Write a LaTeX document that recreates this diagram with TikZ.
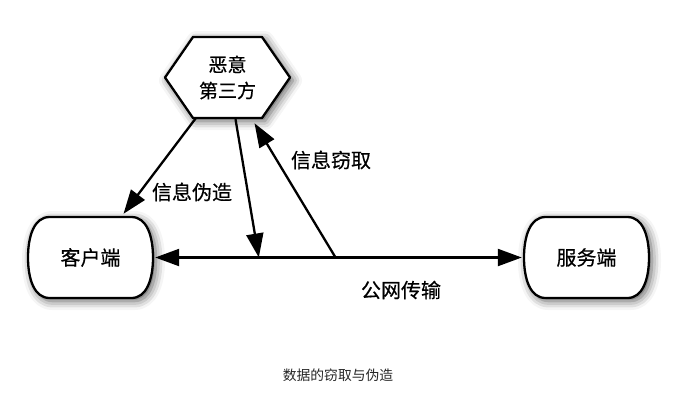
\documentclass[tikz,border=0pt]{standalone}
\usepackage{fontspec}
\newfontfamily\cjk[FakeBold=0.5]{Noto Sans CJK SC}
\newfontfamily\cjkcap{Noto Sans CJK SC}
\usetikzlibrary{arrows.meta,calc,shadows.blur}
\tikzset{
  shapeline/.style={fill=white,
    blur shadow={shadow xshift=3pt, shadow yshift=-3pt, shadow blur radius=9pt, shadow opacity=65}},
  outline/.style={line width=2.3pt, line join=round, draw=black},
  anchorbox/.style={draw=none, minimum width=125pt, minimum height=81pt, inner sep=0pt},
  nodetext/.style={font=\cjk\fontsize{20}{24}\selectfont},
  hextext/.style={font=\cjk\fontsize{19}{27}\selectfont, align=center},
  lbl/.style={font=\cjk\fontsize{20}{24}\selectfont},
  caption/.style={font=\cjkcap\fontsize{13.8}{16}\selectfont, text=black!85},
  conn/.style={line width=2.3pt, draw=black, -{Triangle[length=24pt,width=17pt]}},
  dconn/.style={line width=2.3pt, draw=black, {Triangle[length=24pt,width=17pt]}-{Triangle[length=24pt,width=17pt]}},
}
\begin{document}
\begin{tikzpicture}[x=1pt,y=-1pt]
\useasboundingbox (0,0) rectangle (695,400);
% anchor nodes
\coordinate (hexc) at (227.5,77.5);
\coordinate (clientc) at (90.5,257.5);
\coordinate (serverc) at (586.5,257.5);
% hexagon
\path[shapeline] ($(hexc)+(-62.5,0)$) -- ($(hexc)+(-34.5,-40.5)$) -- ($(hexc)+(34.5,-40.5)$) -- ($(hexc)+(62.5,0)$) -- ($(hexc)+(34.5,40.5)$) -- ($(hexc)+(-34.5,40.5)$) -- cycle;
\draw[outline] ($(hexc)+(-62.5,0)$) -- ($(hexc)+(-34.5,-40.5)$) -- ($(hexc)+(34.5,-40.5)$) -- ($(hexc)+(62.5,0)$) -- ($(hexc)+(34.5,40.5)$) -- ($(hexc)+(-34.5,40.5)$) -- cycle;
% terminal shapes
\foreach \c in {clientc,serverc}{
  \path[shapeline] ($(\c)+(-41,-40.5)$) -- ($(\c)+(41,-40.5)$) .. controls ($(\c)+(56,-40.5)$) and ($(\c)+(62.5,-22)$) .. ($(\c)+(62.5,0)$) .. controls ($(\c)+(62.5,22)$) and ($(\c)+(56,40.5)$) .. ($(\c)+(41,40.5)$) -- ($(\c)+(-41,40.5)$) .. controls ($(\c)+(-56,40.5)$) and ($(\c)+(-62.5,22)$) .. ($(\c)+(-62.5,0)$) .. controls ($(\c)+(-62.5,-22)$) and ($(\c)+(-56,-40.5)$) .. cycle;
  \draw[outline] ($(\c)+(-41,-40.5)$) -- ($(\c)+(41,-40.5)$) .. controls ($(\c)+(56,-40.5)$) and ($(\c)+(62.5,-22)$) .. ($(\c)+(62.5,0)$) .. controls ($(\c)+(62.5,22)$) and ($(\c)+(56,40.5)$) .. ($(\c)+(41,40.5)$) -- ($(\c)+(-41,40.5)$) .. controls ($(\c)+(-56,40.5)$) and ($(\c)+(-62.5,22)$) .. ($(\c)+(-62.5,0)$) .. controls ($(\c)+(-62.5,-22)$) and ($(\c)+(-56,-40.5)$) .. cycle;
}
\node[anchorbox, hextext] (hex) at (hexc) {恶意\\[-1pt]第三方};
\node[anchorbox, nodetext] (client) at (clientc) {客户端};
\node[anchorbox, nodetext] (server) at (serverc) {服务端};
% connector points
\coordinate (tap1) at ($(client.east)!0.285!(server.west)$);
\coordinate (tap2) at ($(client.east)!0.492!(server.west)$);
% connectors
\draw[dconn] ($(client.east)+(2,0)$) -- ($(server.west)+(-2,0)$);
\draw[conn] ($(hex.south west)+(31,0)$) -- ($(client.north)+(33,-3)$);
\draw[conn] ($(hex.south)+(8,1)$) -- (tap1);
\draw[conn] (tap2) -- ($(hex.south)+(27,5)$);
% labels
\node[lbl] (l1) at (192,192) {信息伪造};
\node[lbl] (l2) at (331,160) {信息窃取};
\node[lbl] (l3) at (401,290) {公网传输};
\node[caption] (cap) at (338,375) {数据的窃取与伪造};
\end{tikzpicture}
\end{document}
